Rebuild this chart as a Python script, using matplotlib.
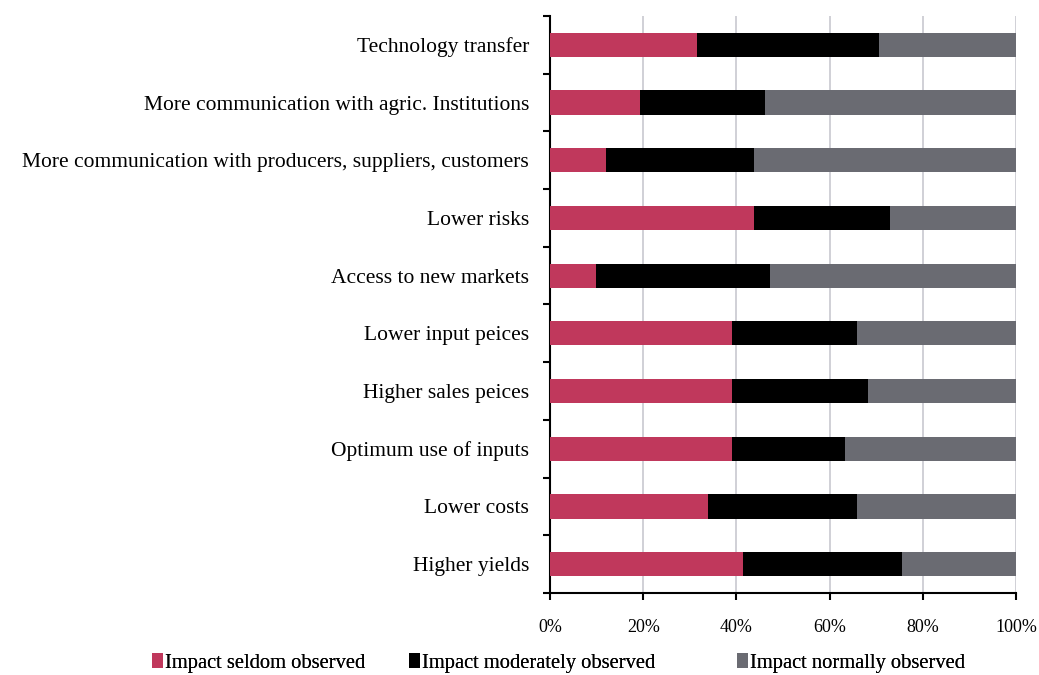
import numpy as np
import matplotlib.pyplot as plt

plt.rcParams['font.family'] = ['Liberation Serif', 'DejaVu Serif']

categories = [
    "Technology transfer",
    "More communication with agric. Institutions",
    "More communication with producers, suppliers, customers",
    "Lower risks",
    "Access to new markets",
    "Lower input peices",
    "Higher sales peices",
    "Optimum use of inputs",
    "Lower costs",
    "Higher yields",
]
seldom = [31.6, 19.3, 12.0, 43.8, 9.9, 39.0, 39.0, 39.0, 34.0, 41.5]
moderately = [39.0, 26.8, 31.7, 29.2, 37.3, 26.9, 29.3, 24.2, 31.9, 34.1]
normally = [100 - a - b for a, b in zip(seldom, moderately)]

series_names = ["Impact seldom observed", "Impact moderately observed", "Impact normally observed"]
colors = ["#C0385C", "#000000", "#6A6B72"]

fig = plt.figure(figsize=(10.39, 6.75), dpi=100)
ax = fig.add_axes([550 / 1039, 1 - 593 / 675, 466 / 1039, 577 / 675])

y = np.arange(len(categories))
left = np.zeros(len(categories))
for vals, name, col in zip([seldom, moderately, normally], series_names, colors):
    ax.barh(y, vals, left=left, height=0.42, color=col, label=name, zorder=3)
    left += np.array(vals)

ax.set_xlim(0, 100)
ax.set_ylim(len(categories) - 0.5, -0.5)
ax.set_xticks(np.arange(0, 101, 20))
ax.set_xticklabels([f"{v}%" for v in range(0, 101, 20)], fontsize=13)
ax.xaxis.grid(True, color="#C8C8D0", linewidth=1.2, zorder=0)
ax.set_yticks(y)
ax.set_yticklabels(categories, fontsize=15.5)
ax.set_yticks(np.arange(-0.5, len(categories), 1), minor=True)
ax.tick_params(axis='y', which='major', length=0, pad=15)
ax.tick_params(axis='y', which='minor', length=5, width=1.5, direction='out')
ax.tick_params(axis='x', length=5, width=1.5, direction='out', pad=14)
for s in ['top', 'right']:
    ax.spines[s].set_visible(False)
for s in ['left', 'bottom']:
    ax.spines[s].set_linewidth(1.5)

# one legend entry per block, spaced like the original
handles, labels = ax.get_legend_handles_labels()
legend_x = [152 / 1039, 409 / 1039, 737 / 1039]
for h, lab, lx in zip(handles, labels, legend_x):
    leg = fig.legend([h], [lab], loc='center left', bbox_to_anchor=(lx, 1 - 663 / 675),
                     frameon=False, fontsize=14.8, handlelength=0.55, handleheight=0.75,
                     handletextpad=0.1, borderpad=0, borderaxespad=0)
    fig.add_artist(leg)

fig.savefig("out.png", dpi=100)
